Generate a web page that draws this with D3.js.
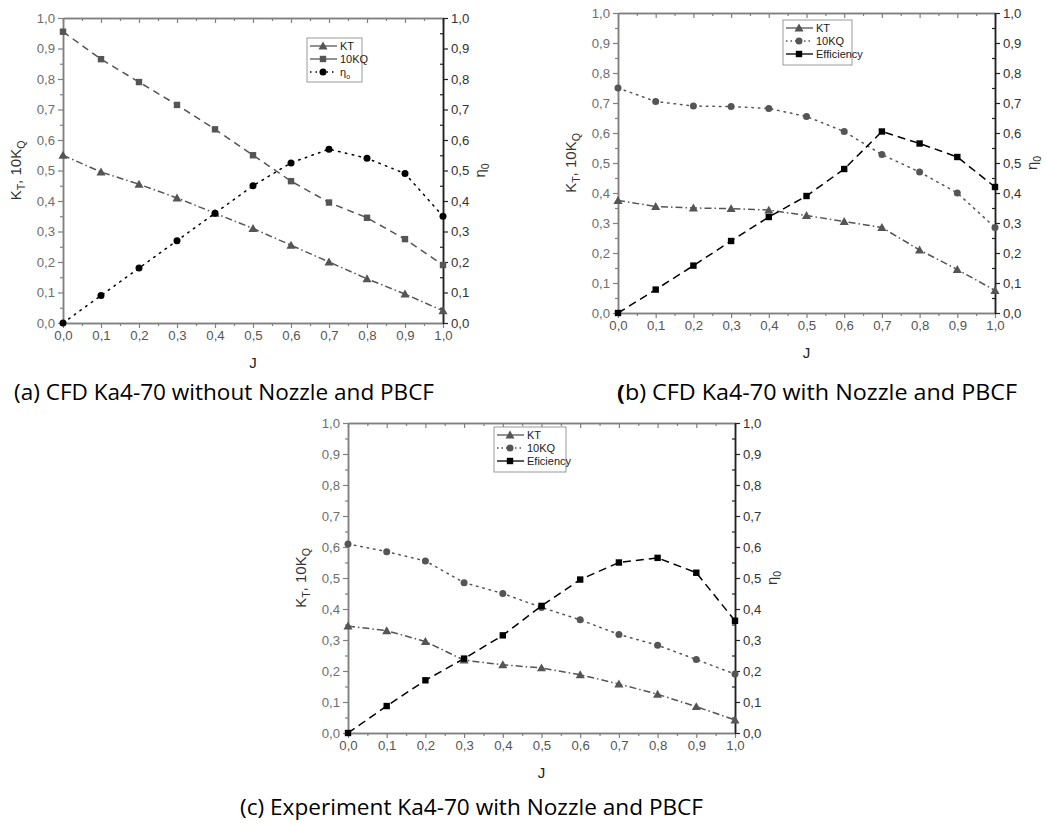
<!DOCTYPE html>
<html><head><meta charset="utf-8">
<script src="https://cdn.jsdelivr.net/npm/d3@7"></script>
<style>body{margin:0;background:#fff}svg{display:block}</style>
</head><body>
<svg id="c" width="1047" height="825"></svg>
<script>
const J = [0,0.1,0.2,0.3,0.4,0.5,0.6,0.7,0.8,0.9,1.0];
const tickLabels = ["0,0","0,1","0,2","0,3","0,4","0,5","0,6","0,7","0,8","0,9","1,0"];

const a_KT   = [0.55,0.495,0.455,0.41,0.36,0.31,0.255,0.20,0.145,0.095,0.04];
const a_10KQ = [0.955,0.865,0.79,0.715,0.635,0.55,0.465,0.395,0.345,0.275,0.19];
const a_eta  = [0,0.09,0.18,0.27,0.36,0.45,0.525,0.57,0.54,0.49,0.35];

const b_KT   = [0.375,0.355,0.35,0.348,0.343,0.325,0.305,0.285,0.21,0.145,0.075];
const b_10KQ = [0.75,0.705,0.69,0.688,0.682,0.655,0.605,0.528,0.47,0.40,0.285];
const b_eff  = [0,0.078,0.158,0.24,0.32,0.39,0.48,0.605,0.565,0.52,0.42];

const c_KT   = [0.345,0.33,0.295,0.235,0.22,0.21,0.188,0.158,0.125,0.085,0.042];
const c_10KQ = [0.61,0.585,0.555,0.485,0.45,0.405,0.365,0.318,0.283,0.237,0.19];
const c_eff  = [0,0.087,0.17,0.24,0.315,0.41,0.495,0.55,0.565,0.517,0.362];

const captions = ["(a) CFD Ka4-70 without Nozzle and PBCF","(b) CFD Ka4-70 with Nozzle and PBCF","(c) Experiment Ka4-70 with Nozzle and PBCF"];

const svg = d3.select("#c");
const GRAY = "#555", AX = "#808080", LBL = "#6e6e6e";
const FONT = "'Liberation Sans',Arial,sans-serif";

function marker(g, type, x, y, color){
  if(type==="tri") g.append("path").attr("d", d3.symbol(d3.symbolTriangle, 36)()).attr("transform",`translate(${x},${y+0.8})`).attr("fill",color);
  else if(type==="sq") g.append("rect").attr("x",x-3.2).attr("y",y-3.2).attr("width",6.4).attr("height",6.4).attr("fill",color);
  else g.append("circle").attr("cx",x).attr("cy",y).attr("r",3.5).attr("fill",color);
}

function panel(o){
  const x = d3.scaleLinear().domain([0,1]).range([o.x0,o.x1]);
  const y = d3.scaleLinear().domain([0,1]).range([o.y1,o.y0]);
  const g = svg.append("g").attr("font-family",FONT);
  const major = d3.range(0,11).map(i=>i/10);
  const minor = d3.range(0,10).map(i=>i/10+0.05);
  const fmt = v => tickLabels[Math.round(v*10)];

  function ax(axisFn, scale, transform, color, size, vals, labels, lblColor){
    const a = g.append("g").attr("transform",transform)
      .call(axisFn(scale).tickValues(vals).tickSize(size).tickSizeOuter(0).tickFormat(labels?fmt:"").tickPadding(3));
    a.attr("font-family",FONT).attr("font-size",13.2);
    a.select(".domain").attr("stroke",color).attr("stroke-width",1.5);
    a.selectAll(".tick line").attr("stroke",color).attr("stroke-width",1.2);
    a.selectAll("text").attr("fill",lblColor||LBL);
    return a;
  }
  ax(d3.axisBottom, x, `translate(0,${o.y1})`, AX, 5, major, true, "#555");
  ax(d3.axisBottom, x, `translate(0,${o.y1})`, AX, 3, minor, false);
  ax(d3.axisTop, x, `translate(0,${o.y0})`, AX, -5, major, false);
  ax(d3.axisTop, x, `translate(0,${o.y0})`, AX, -3, minor, false);
  ax(d3.axisLeft, y, `translate(${o.x0},0)`, AX, 5, major, true);
  ax(d3.axisLeft, y, `translate(${o.x0},0)`, AX, 3, minor, false);
  ax(d3.axisRight, y, `translate(${o.x1},0)`, "#222", 5, major, true, "#333");
  ax(d3.axisRight, y, `translate(${o.x1},0)`, "#222", -3, minor, false);

  g.append("text").attr("x",(o.x0+o.x1)/2).attr("y",o.y1+45).attr("text-anchor","middle").attr("font-size",15).attr("fill","#222").text("J");
  const lt = g.append("text").attr("transform",`translate(${o.x0-42},${(o.y0+o.y1)/2}) rotate(-90)`).attr("text-anchor","middle").attr("font-size",15).attr("fill","#333");
  lt.append("tspan").text("K");
  lt.append("tspan").attr("font-size",10.5).attr("dy",4).text("T");
  lt.append("tspan").attr("dy",-4).text(", 10K");
  lt.append("tspan").attr("font-size",10.5).attr("dy",4).text("Q");
  const rt = g.append("text").attr("transform",`translate(${o.x1+42},${(o.y0+o.y1)/2}) rotate(-90)`).attr("text-anchor","middle").attr("font-size",15).attr("fill","#333");
  rt.append("tspan").text("η");
  rt.append("tspan").attr("font-size",10.5).attr("dy",4).text("0");

  o.series.forEach(s=>{
    const line = d3.line().x((d,i)=>x(J[i])).y(d=>y(d));
    g.append("path").datum(s.data).attr("d",line).attr("fill","none").attr("stroke",s.color)
      .attr("stroke-width",1.5).attr("stroke-dasharray",s.dash).attr("stroke-linecap",s.cap||"butt");
    s.data.forEach((d,i)=>marker(g,s.mk,x(J[i]),y(d),s.color));
  });

  const L = o.legend;
  g.append("rect").attr("x",L.x).attr("y",L.y).attr("width",L.w).attr("height",L.h).attr("fill","#fff").attr("stroke","#999").attr("stroke-width",1);
  o.series.forEach((s,i)=>{
    const yy = L.y+8+i*13;
    g.append("line").attr("x1",L.x+3).attr("x2",L.x+30).attr("y1",yy).attr("y2",yy).attr("stroke",s.color).attr("stroke-width",1.3).attr("stroke-dasharray",s.ldash||s.dash);
    marker(g,s.mk,L.x+16,yy,s.color);
    const t = g.append("text").attr("x",L.x+33).attr("y",yy+4).attr("font-size",11).attr("fill","#222");
    if(s.name==="eta"){ t.append("tspan").text("η"); t.append("tspan").attr("font-size",7).attr("dy",3).text("o"); }
    else t.text(s.name);
  });

  const cap = svg.append("text").attr("x",o.cx).attr("y",o.cy).attr("font-family","'Open Sans',sans-serif").attr("font-size",21).attr("fill","#000")
    .attr("textLength",o.cw).attr("lengthAdjust","spacingAndGlyphs");
  if(o.boldParen){ cap.append("tspan").attr("font-weight","bold").text(o.caption[0]); cap.append("tspan").text(o.caption.slice(1)); }
  else cap.text(o.caption);
}

panel({x0:63,x1:443,y0:18,y1:323,
  legend:{x:307,y:38,w:55,h:44},
  cx:14, cy:400, cw:420, caption:captions[0],
  series:[
    {name:"KT",data:a_KT,mk:"tri",color:GRAY,dash:"7,3,1.5,3",ldash:"none"},
    {name:"10KQ",data:a_10KQ,mk:"sq",color:GRAY,dash:"7,5",ldash:"none"},
    {name:"eta",data:a_eta,mk:"circ",color:"#000",dash:"1.5,5.5",cap:"round",ldash:"1.5,4"}
  ]});

panel({x0:618,x1:995,y0:13,y1:313,
  legend:{x:783,y:20,w:69,h:45},
  cx:617, cy:400, cw:400, caption:captions[1], boldParen:true,
  series:[
    {name:"KT",data:b_KT,mk:"tri",color:GRAY,dash:"7,3,1.5,3",ldash:"none"},
    {name:"10KQ",data:b_10KQ,mk:"circ",color:GRAY,dash:"1.5,5",cap:"round",ldash:"1.5,3"},
    {name:"Efficiency",data:b_eff,mk:"sq",color:"#000",dash:"8,5",ldash:"none"}
  ]});

panel({x0:348,x1:735,y0:423,y1:733,
  legend:{x:494,y:427,w:72,h:45},
  cx:240, cy:815, cw:463, caption:captions[2],
  series:[
    {name:"KT",data:c_KT,mk:"tri",color:GRAY,dash:"7,3,1.5,3",ldash:"none"},
    {name:"10KQ",data:c_10KQ,mk:"circ",color:GRAY,dash:"1.5,5",cap:"round",ldash:"1.5,3"},
    {name:"Eficiency",data:c_eff,mk:"sq",color:"#000",dash:"8,5",ldash:"none"}
  ]});
</script>
</body></html>
